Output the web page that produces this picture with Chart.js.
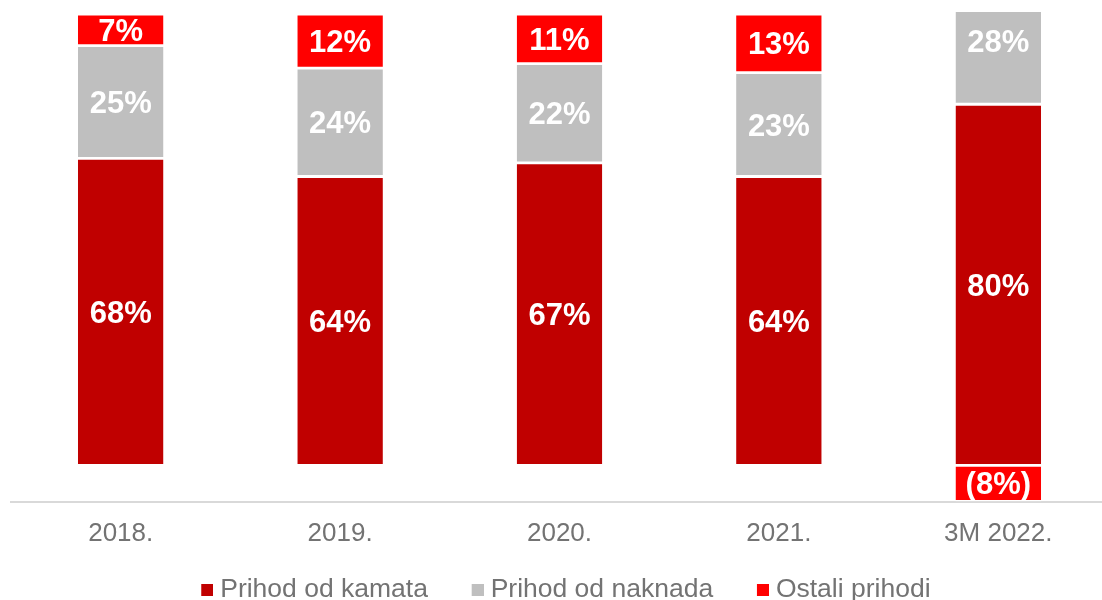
<!DOCTYPE html>
<html>
<head>
<meta charset="utf-8">
<script src="https://cdn.jsdelivr.net/npm/chart.js@4.4.1/dist/chart.umd.min.js"></script>
<style>
  html, body { margin: 0; padding: 0; background: #fff; overflow: hidden; width: 1102px; height: 600px; }
  #wrap { position: absolute; left: -10px; top: 0; width: 1118px; height: 613px; }
</style>
</head>
<body>
<div id="wrap"><canvas id="incomeChart"></canvas></div>
<script>
const categories = ["2018.", "2019.", "2020.", "2021.", "3M 2022."];
const seriesNames = ["Prihod od kamata", "Prihod od naknada", "Ostali prihodi"];
const kamata = [68, 64, 67, 64, 80];
const naknade = [25, 24, 22, 23, 28];
const ostali = [7, 12, 11, 13, -8];
const colors = ["#C00000", "#BFBFBF", "#FF0000"];

// legend marker: square sitting at the right end of a wider transparent image,
// so the gap to the text is small and the items are spread apart
function marker(color) {
  const c = document.createElement("canvas");
  c.width = 52; c.height = 12;
  const g = c.getContext("2d");
  g.fillStyle = color;
  g.fillRect(40, 0, 12, 12);
  return c;
}

const fmt = v => v < 0 ? "(" + (-v) + "%)" : v + "%";

// values drawn in the middle of each segment
const segmentLabels = {
  id: "segmentLabels",
  afterDatasetsDraw(chart) {
    const ctx = chart.ctx;
    ctx.save();
    ctx.font = "bold 31px 'Liberation Sans', Arial, sans-serif";
    ctx.fillStyle = "#ffffff";
    ctx.textAlign = "center";
    ctx.textBaseline = "middle";
    chart.data.datasets.forEach((ds, i) => {
      chart.getDatasetMeta(i).data.forEach((bar, j) => {
        const y = (bar.y + bar.base) / 2 + 2.5;
        ctx.fillText(fmt(ds.data[j]), bar.x, y);
      });
    });
    ctx.restore();
  }
};

const border = { top: 1.4, bottom: 1.4, left: 0, right: 0 };
const mkSet = (label, data, color) => ({
  label: label,
  data: data,
  backgroundColor: color,
  borderColor: "#ffffff",
  borderWidth: border,
  borderSkipped: false,
  clip: 0,
  barPercentage: 0.39,
  categoryPercentage: 1
});

new Chart(document.getElementById("incomeChart"), {
  type: "bar",
  data: {
    labels: categories,
    datasets: [
      mkSet(seriesNames[0], kamata, colors[0]),
      mkSet(seriesNames[1], naknade, colors[1]),
      mkSet(seriesNames[2], ostali, colors[2])
    ]
  },
  options: {
    responsive: true,
    maintainAspectRatio: false,
    animation: false,
    layout: { padding: { left: 0, top: 12, right: 0, bottom: 0 } },
    plugins: {
      tooltip: { enabled: false },
      legend: {
        position: "bottom",
        labels: {
          color: "#737373",
          font: { family: "'Liberation Sans', Arial, sans-serif", size: 26.5 },
          padding: 10,
          usePointStyle: true,
          pointStyleWidth: 39.5,
          generateLabels(chart) {
            const items = Chart.defaults.plugins.legend.labels.generateLabels(chart);
            items.forEach((it, i) => { it.pointStyle = marker(colors[i]); });
            return items;
          }
        }
      }
    },
    scales: {
      x: {
        stacked: true,
        grid: { display: false, drawTicks: false },
        border: { display: true, color: "#D9D9D9", width: 2 },
        ticks: {
          color: "#737373",
          padding: 19,
          font: { family: "'Liberation Sans', Arial, sans-serif", size: 26, lineHeight: 1 }
        },
        afterFit(scale) { scale.height = 65; }
      },
      y: {
        stacked: true,
        position: "left",
        min: -8,
        max: 100.44,
        grid: { display: false, drawTicks: false },
        border: { display: false },
        ticks: { display: false },
        afterFit(scale) { scale.width = 21; }
      }
    }
  },
  plugins: [segmentLabels]
});
</script>
</body>
</html>
